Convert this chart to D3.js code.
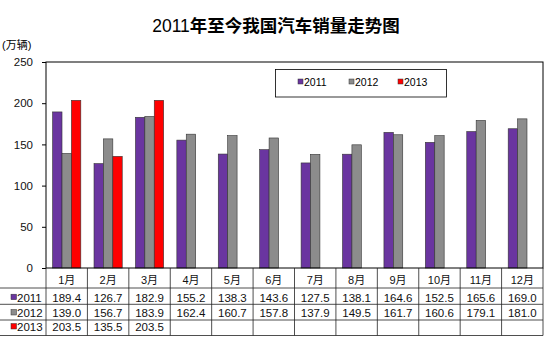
<!DOCTYPE html>
<html><head><meta charset="utf-8">
<script src="https://cdn.jsdelivr.net/npm/d3@7"></script>
<style>
body{margin:0;background:#fff;}
text{font-family:"Liberation Sans",Arial,"Noto Sans CJK SC",sans-serif;}
</style></head>
<body><svg id="c" width="550" height="341"></svg>
<script>
const months = ["1月","2月","3月","4月","5月","6月","7月","8月","9月","10月","11月","12月"];
const seriesNames = ["2011","2012","2013"];
const s2011 = [189.4,126.7,182.9,155.2,138.3,143.6,127.5,138.1,164.6,152.5,165.6,169.0];
const s2012 = [139.0,156.7,183.9,162.4,160.7,157.8,137.9,149.5,161.7,160.6,179.1,181.0];
const s2013 = [203.5,135.5,203.5];
const yTicks = [0,50,100,150,200,250];
const colors = ["#6A35A0","#8C8C8C","#FF0000"];
const seriesData = [s2011,s2012,s2013];

const svg = d3.select("#c");
const L=46, R=543, T=62, B=268;
const x = d3.scaleBand().domain(months).range([L,R]).padding(0);
const x1 = d3.scaleBand().domain(seriesNames).range([6.6, x.bandwidth()-6.6]).padding(0);
const y = d3.scaleLinear().domain([0,250]).range([B,T]);

// title
const title = svg.append("text").attr("x",276).attr("y",32).attr("text-anchor","middle").attr("font-size",17.5);
title.append("tspan").text("2011");
title.append("tspan").attr("font-weight","bold").attr("font-family","Noto Sans CJK SC").text("年至今我国汽车销量走势图");

svg.append("text").attr("x",2).attr("y",49).attr("font-size",11).attr("font-family","Noto Sans CJK SC").text("(万辆)");

// bars
seriesData.forEach((arr,si)=>{
  svg.append("g").selectAll("rect").data(arr).join("rect")
    .attr("x",(d,i)=>x(months[i])+x1(seriesNames[si]))
    .attr("y",d=>y(d))
    .attr("width",x1.bandwidth())
    .attr("height",d=>B-y(d))
    .attr("fill",colors[si])
    .attr("stroke","#333").attr("stroke-width",0.6);
});

// y axis
const ya = svg.append("g").attr("transform",`translate(${L},0)`)
  .call(d3.axisLeft(y).tickValues(yTicks).tickSize(4).tickPadding(9));
ya.select(".domain").remove();
ya.selectAll("line").attr("stroke","#000");
ya.selectAll("text").attr("font-size",11.5).attr("fill","#111");

// plot border
svg.append("rect").attr("x",L).attr("y",T).attr("width",R-L).attr("height",B-T)
  .attr("fill","none").attr("stroke","#000").attr("stroke-width",1);

// legend
const lg = svg.append("g");
lg.append("rect").attr("x",275.5).attr("y",69.5).attr("width",171).attr("height",27.5)
  .attr("fill","#fff").attr("stroke","#000").attr("stroke-width",0.8);
const lx = [298,349,398];
seriesNames.forEach((s,i)=>{
  lg.append("rect").attr("x",lx[i]).attr("y",79).attr("width",5).attr("height",5)
    .attr("fill",colors[i]).attr("stroke","#333").attr("stroke-width",0.5);
  lg.append("text").attr("x",lx[i]+6).attr("y",85.5).attr("font-size",10.5).text(s);
});

// table
const rows=[268,288,304.3,320,335.5];
const baselines=[301.7,317,331];
const tg = svg.append("g").attr("stroke","#222").attr("stroke-width",0.8);
for(let r=1;r<rows.length;r++){
  tg.append("line").attr("x1",0).attr("x2",R).attr("y1",rows[r]).attr("y2",rows[r]);
}
months.forEach(m=>{
  tg.append("line").attr("x1",x(m)).attr("x2",x(m)).attr("y1",rows[0]).attr("y2",rows[4]);
});
tg.append("line").attr("x1",R).attr("x2",R).attr("y1",rows[0]).attr("y2",rows[4]);

// month labels
svg.append("g").selectAll("text").data(months).join("text")
  .attr("x",d=>x(d)+x.bandwidth()/2).attr("y",284).attr("text-anchor","middle")
  .attr("font-size",11).attr("font-family","Noto Sans CJK SC").attr("fill","#111").text(d=>d);

seriesData.forEach((arr,si)=>{
  const yy = baselines[si];
  svg.append("g").selectAll("text").data(arr).join("text")
    .attr("x",(d,i)=>x(months[i])+x.bandwidth()/2).attr("y",yy).attr("text-anchor","middle")
    .attr("font-size",11.5).attr("fill","#111").text(d=>d.toFixed(1));
  svg.append("rect").attr("x",11).attr("y",yy-7.5).attr("width",5.5).attr("height",5.5)
    .attr("fill",colors[si]).attr("stroke","#333").attr("stroke-width",0.5);
  svg.append("text").attr("x",17).attr("y",yy).attr("font-size",11.5).attr("fill","#111").text(seriesNames[si]);
});
</script></body></html>
